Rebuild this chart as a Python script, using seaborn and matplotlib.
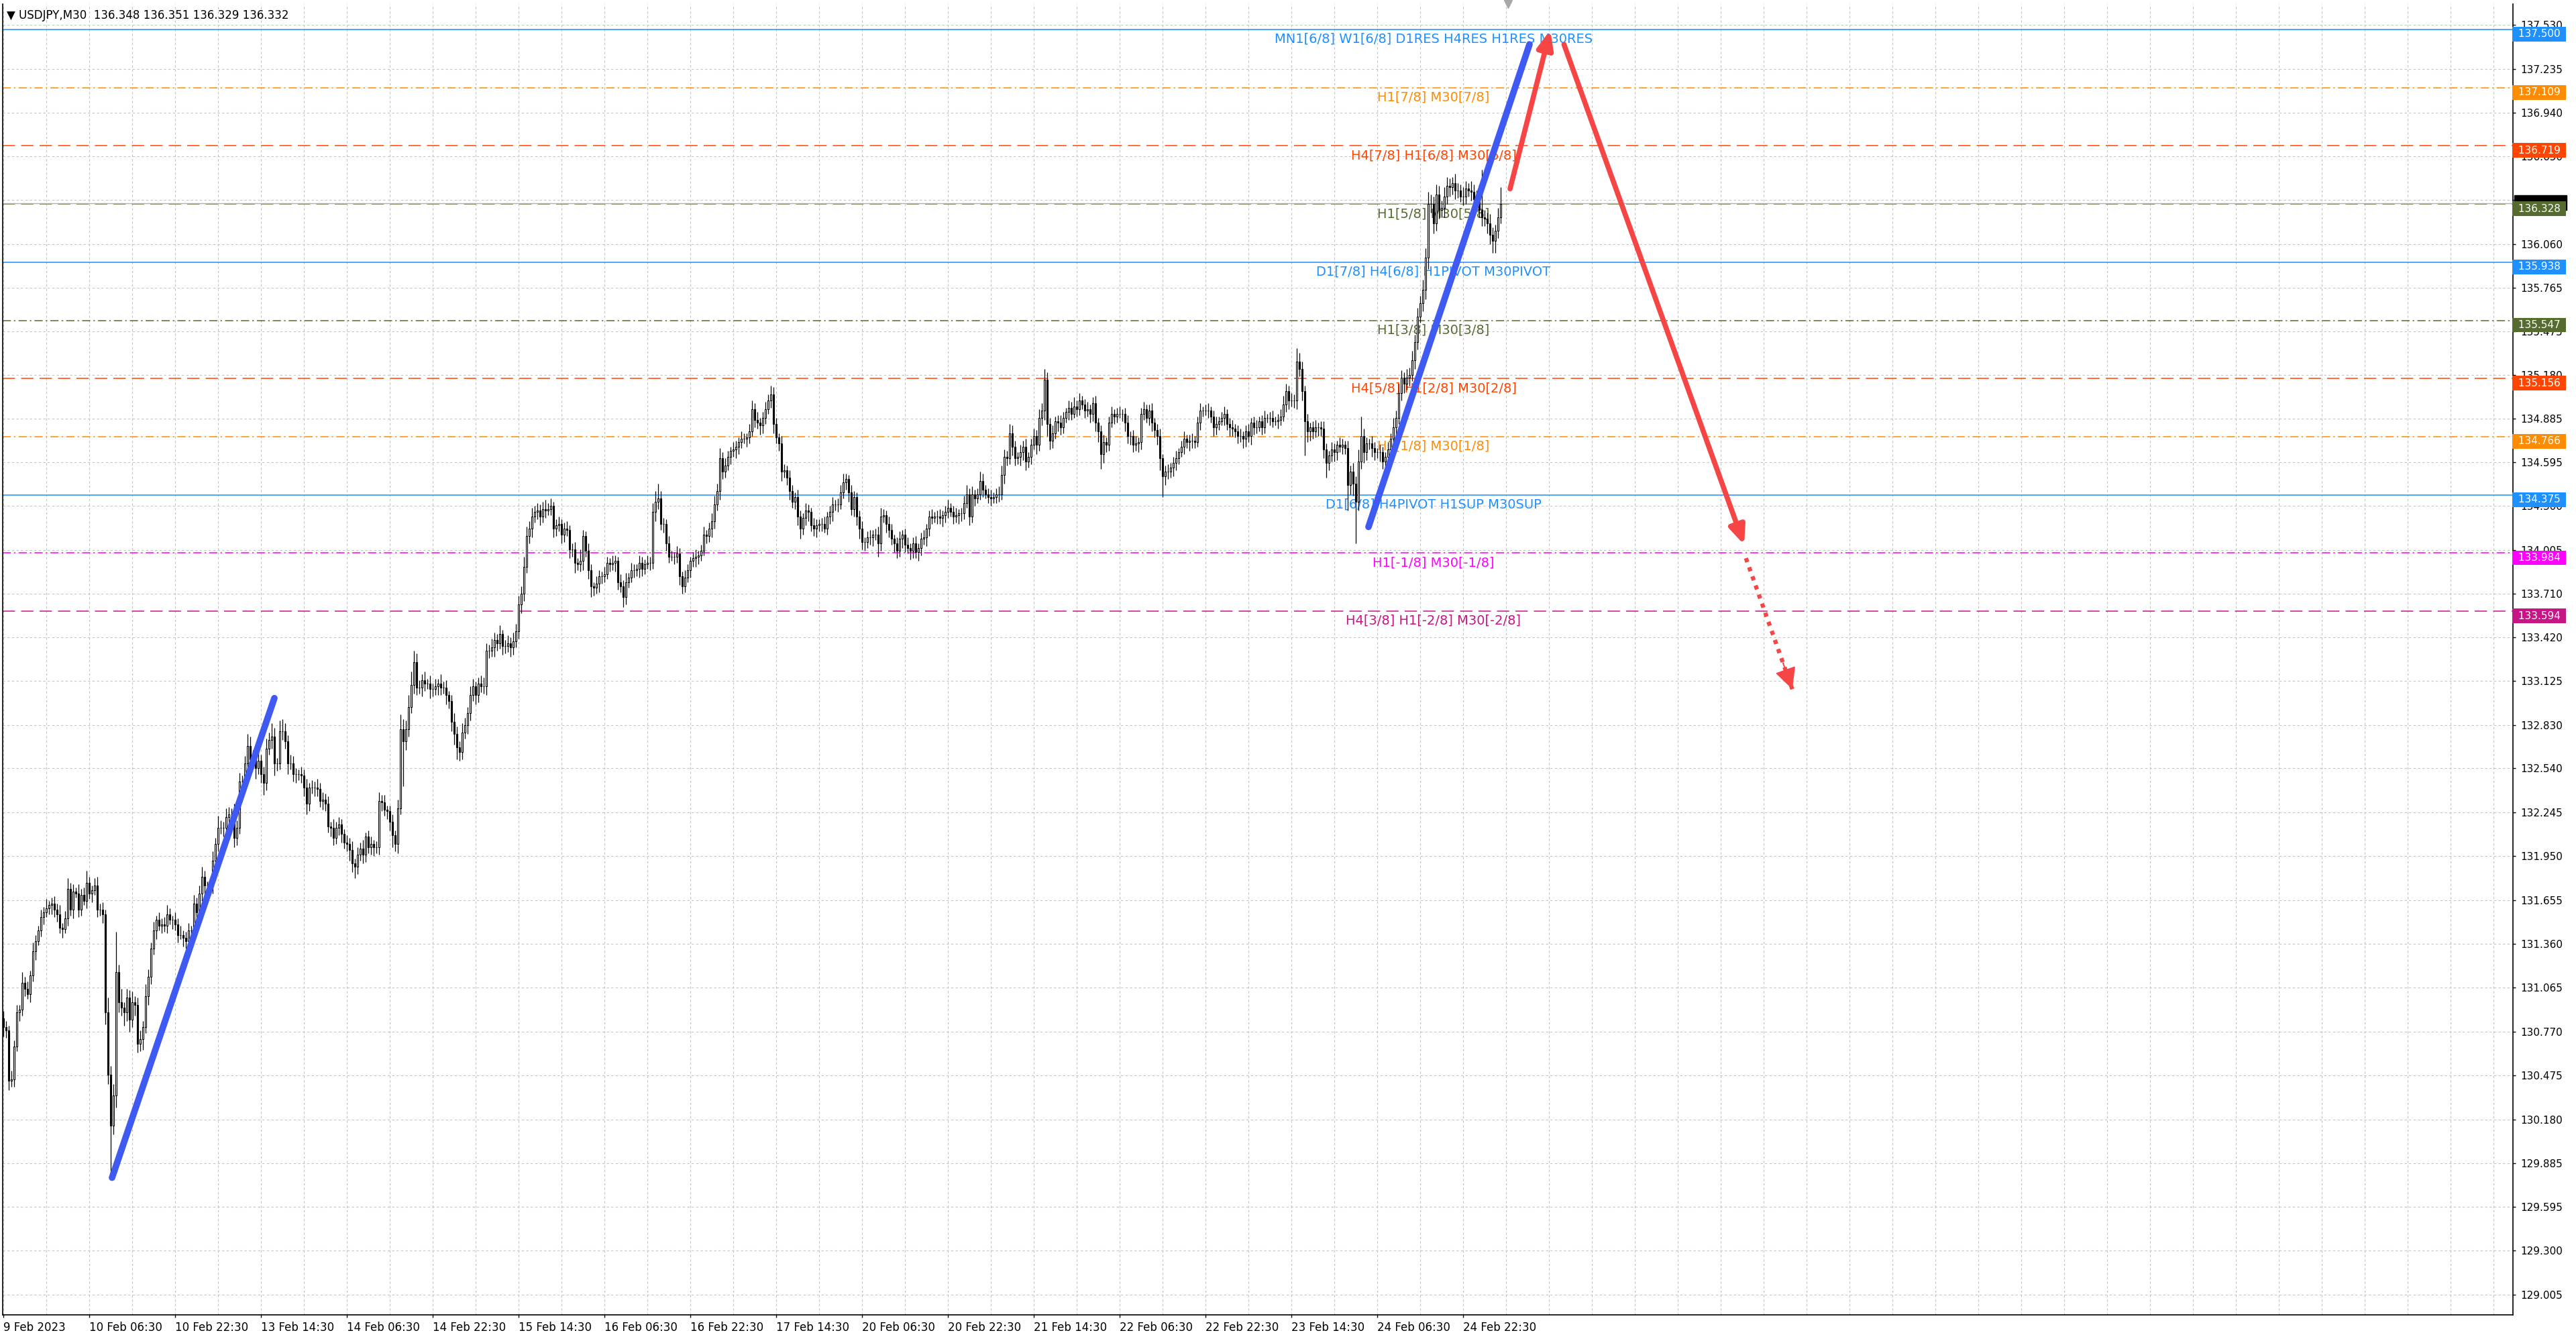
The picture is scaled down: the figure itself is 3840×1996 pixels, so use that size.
import numpy as np
import pandas as pd
import seaborn as sns
import matplotlib.pyplot as plt
import matplotlib.transforms as mtransforms
from matplotlib.patches import Rectangle

# USDJPY M30 - velas con niveles Murrey Math y proyeccion

first_open = 130.86

closes = [
    130.80, 130.78, 130.44, 130.45, 130.67, 130.90, 130.92, 131.10, 131.06, 131.02,
    131.15, 131.31, 131.38, 131.45, 131.54, 131.57, 131.60, 131.62, 131.63, 131.59,
    131.56, 131.47, 131.46, 131.53, 131.73, 131.59, 131.71, 131.70, 131.59, 131.69,
    131.65, 131.77, 131.70, 131.72, 131.75, 131.59, 131.59, 131.56, 130.90, 130.48,
    130.14, 130.34, 131.17, 130.97, 130.93, 130.90, 131.00, 130.85, 130.97, 130.95,
    130.69, 130.72, 130.80, 131.01, 131.14, 131.33, 131.45, 131.52, 131.48, 131.49,
    131.48, 131.56, 131.52, 131.52, 131.49, 131.42, 131.42, 131.40, 131.38, 131.45,
    131.45, 131.63, 131.57, 131.70, 131.81, 131.75, 131.75, 131.75, 131.92, 132.03,
    132.14, 132.14, 132.14, 132.21, 132.23, 132.23, 132.07, 132.14, 132.45, 132.45,
    132.57, 132.69, 132.60, 132.62, 132.54, 132.59, 132.50, 132.44, 132.67, 132.73,
    132.75, 132.57, 132.57, 132.79, 132.79, 132.72, 132.57, 132.57, 132.50, 132.50,
    132.50, 132.49, 132.41, 132.30, 132.41, 132.41, 132.41, 132.40, 132.32, 132.33,
    132.30, 132.15, 132.14, 132.07, 132.14, 132.16, 132.10, 132.04, 132.03, 131.99,
    131.90, 131.88, 131.96, 132.00, 131.96, 132.08, 132.01, 132.03, 132.01, 132.01,
    132.32, 132.31, 132.26, 132.25, 132.18, 132.09, 132.03, 132.27, 132.80, 132.72,
    132.80, 132.95, 133.10, 133.25, 133.08, 133.08, 133.13, 133.11, 133.11, 133.07,
    133.07, 133.09, 133.11, 133.08, 133.08, 133.03, 132.99, 132.85, 132.77, 132.68,
    132.65, 132.78, 132.83, 132.91, 133.03, 133.09, 133.03, 133.11, 133.09, 133.09,
    133.33, 133.33, 133.35, 133.40, 133.38, 133.44, 133.36, 133.36, 133.38, 133.35,
    133.39, 133.46, 133.64, 133.71, 133.89, 134.10, 134.15, 134.23, 134.26, 134.27,
    134.23, 134.28, 134.27, 134.28, 134.30, 134.15, 134.17, 134.18, 134.11, 134.15,
    134.14, 134.01, 134.01, 133.92, 133.91, 133.93, 134.10, 134.00, 133.87, 133.76,
    133.75, 133.78, 133.83, 133.83, 133.84, 133.92, 133.91, 133.92, 133.93, 133.79,
    133.76, 133.69, 133.79, 133.82, 133.87, 133.87, 133.88, 133.92, 133.88, 133.91,
    133.92, 133.92, 134.26, 134.33, 134.35, 134.18, 134.18, 134.05, 133.96, 133.96,
    133.96, 133.98, 133.83, 133.76, 133.82, 133.87, 133.93, 133.95, 133.96, 133.97,
    134.00, 134.11, 134.10, 134.15, 134.20, 134.31, 134.40, 134.62, 134.53, 134.57,
    134.63, 134.67, 134.68, 134.70, 134.73, 134.75, 134.75, 134.76, 134.80, 134.95,
    134.88, 134.86, 134.84, 134.89, 134.95, 135.01, 135.05, 134.85, 134.76, 134.72,
    134.53, 134.54, 134.49, 134.40, 134.33, 134.36, 134.23, 134.15, 134.22, 134.27,
    134.26, 134.17, 134.15, 134.17, 134.18, 134.18, 134.15, 134.23, 134.26, 134.31,
    134.31, 134.31, 134.39, 134.46, 134.48, 134.39, 134.28, 134.36, 134.23, 134.15,
    134.06, 134.06, 134.09, 134.09, 134.11, 134.11, 134.05, 134.23, 134.24, 134.18,
    134.14, 134.08, 134.05, 134.00, 134.08, 134.11, 134.04, 134.02, 134.00, 134.05,
    133.99, 134.02, 134.08, 134.09, 134.15, 134.23, 134.22, 134.23, 134.23, 134.22,
    134.24, 134.26, 134.29, 134.26, 134.23, 134.24, 134.25, 134.25, 134.32, 134.38,
    134.23, 134.38, 134.35, 134.38, 134.47, 134.41, 134.38, 134.36, 134.35, 134.36,
    134.38, 134.38, 134.51, 134.63, 134.62, 134.79, 134.70, 134.62, 134.63, 134.66,
    134.70, 134.60, 134.63, 134.71, 134.77, 134.71, 134.89, 134.94, 135.15, 134.85,
    134.74, 134.79, 134.87, 134.86, 134.83, 134.89, 134.93, 134.96, 134.92, 134.97,
    134.95, 135.01, 134.98, 134.94, 134.95, 134.92, 134.99, 134.86, 134.80, 134.65,
    134.73, 134.71, 134.86, 134.92, 134.90, 134.92, 134.92, 134.92, 134.86, 134.77,
    134.77, 134.71, 134.72, 134.73, 134.92, 134.95, 134.89, 134.94, 134.86, 134.81,
    134.77, 134.62, 134.50, 134.53, 134.53, 134.56, 134.59, 134.62, 134.66, 134.70,
    134.75, 134.73, 134.74, 134.74, 134.73, 134.86, 134.94, 134.94, 134.94, 134.94,
    134.90, 134.83, 134.85, 134.87, 134.89, 134.92, 134.85, 134.83, 134.82, 134.80,
    134.77, 134.77, 134.75, 134.80, 134.77, 134.86, 134.83, 134.83, 134.87, 134.83,
    134.89, 134.89, 134.89, 134.87, 134.87, 134.88, 134.90, 134.98, 135.07, 135.01,
    135.01, 135.01, 135.27, 135.22, 135.07, 134.87, 134.80, 134.83, 134.80, 134.83,
    134.83, 134.82, 134.68, 134.59, 134.64, 134.68, 134.66, 134.71, 134.70, 134.71,
    134.69, 134.44, 134.53, 134.45, 134.33, 134.60, 134.77, 134.66, 134.72, 134.72,
    134.69, 134.66, 134.66, 134.66, 134.60, 134.63, 134.68, 134.75, 134.83, 134.89,
    135.06, 135.16, 135.12, 135.16, 135.18, 135.28, 135.40, 135.57, 135.66, 135.75,
    135.97, 136.33, 136.33, 136.20, 136.39, 136.29, 136.30, 136.38, 136.45, 136.44,
    136.47, 136.42, 136.42, 136.38, 136.38, 136.43, 136.42, 136.41, 136.36, 136.38,
    136.29, 136.24, 136.23, 136.20, 136.12, 136.08, 136.15, 136.24, 136.33,
]

# mechas en pips (0.01)
wick_up = [
    5, 4, 3, 6, 4, 5, 3, 7, 4, 5, 3, 6, 4, 3, 5, 4, 6, 3, 4, 5,
    4, 6, 3, 5, 7, 4, 5, 3, 6, 4, 5, 8, 4, 3, 5, 6, 4, 5, 3, 10,
    6, 8, 27, 5, 9, 4, 6, 5, 7, 4, 5, 6, 4, 8, 5, 4, 6, 3, 5, 4,
    5, 6, 4, 3, 5, 4, 6, 3, 4, 5, 3, 6, 4, 5, 7, 4, 3, 5, 6, 4,
    8, 5, 4, 6, 5, 4, 7, 5, 6, 4, 5, 8, 6, 4, 5, 6, 4, 5, 7, 5,
    9, 6, 4, 7, 8, 5, 4, 6, 5, 4, 3, 5, 4, 6, 3, 5, 4, 6, 4, 5,
    4, 5, 3, 6, 4, 5, 4, 3, 5, 4, 6, 3, 5, 4, 6, 3, 4, 5, 3, 4,
    6, 4, 5, 3, 4, 5, 3, 6, 10, 7, 6, 8, 9, 8, 6, 5, 4, 6, 3, 5,
    4, 5, 3, 6, 4, 5, 3, 4, 6, 5, 4, 6, 5, 4, 6, 5, 3, 4, 5, 6,
    5, 4, 6, 5, 4, 6, 3, 4, 5, 4, 6, 5, 6, 5, 7, 6, 5, 6, 4, 5,
    4, 5, 6, 4, 5, 3, 4, 5, 3, 4, 5, 3, 4, 5, 3, 8, 4, 3, 5, 4,
    3, 5, 4, 3, 5, 4, 3, 5, 4, 3, 5, 4, 6, 3, 5, 4, 3, 5, 4, 3,
    5, 4, 6, 7, 10, 5, 4, 3, 5, 4, 3, 5, 4, 3, 5, 4, 3, 4, 5, 3,
    4, 5, 3, 4, 5, 6, 5, 7, 4, 5, 4, 3, 5, 4, 3, 5, 4, 3, 5, 6,
    4, 5, 3, 4, 5, 4, 6, 5, 4, 3, 5, 4, 3, 5, 4, 3, 5, 4, 3, 5,
    4, 3, 5, 4, 3, 4, 5, 3, 4, 5, 3, 4, 5, 6, 4, 3, 5, 4, 3, 4,
    5, 3, 4, 5, 3, 4, 5, 6, 4, 3, 5, 4, 3, 4, 5, 3, 4, 5, 3, 4,
    5, 3, 4, 5, 3, 4, 5, 3, 4, 5, 3, 4, 5, 3, 4, 5, 3, 4, 5, 6,
    4, 5, 3, 4, 6, 5, 3, 4, 5, 3, 4, 5, 6, 5, 4, 6, 5, 4, 3, 5,
    4, 5, 3, 4, 5, 4, 6, 5, 7, 5, 4, 5, 3, 4, 5, 4, 3, 5, 4, 6,
    4, 5, 3, 4, 5, 3, 4, 5, 3, 4, 5, 3, 4, 5, 3, 4, 5, 3, 4, 5,
    3, 4, 5, 3, 4, 5, 3, 4, 5, 3, 4, 5, 3, 4, 5, 3, 4, 5, 3, 4,
    5, 3, 4, 5, 3, 4, 5, 3, 4, 5, 3, 4, 5, 3, 4, 5, 3, 4, 5, 3,
    4, 5, 3, 4, 5, 3, 4, 5, 3, 4, 5, 3, 4, 5, 3, 4, 5, 6, 5, 4,
    5, 4, 9, 6, 5, 4, 5, 3, 4, 5, 3, 4, 5, 4, 3, 5, 4, 3, 5, 4,
    3, 5, 4, 6, 5, 8, 13, 5, 4, 3, 5, 4, 3, 5, 4, 3, 5, 4, 6, 5,
    6, 5, 4, 6, 5, 6, 5, 6, 5, 7, 6, 8, 6, 5, 7, 6, 5, 6, 6, 5,
    4, 6, 5, 4, 6, 5, 4, 6, 5, 4, 8, 27, 5, 4, 6, 5, 4, 6, 11,
]
wick_dn = [
    6, 5, 6, 4, 5, 3, 6, 4, 5, 3, 5, 4, 6, 3, 4, 5, 3, 4, 6, 5,
    5, 4, 6, 3, 5, 4, 6, 3, 5, 4, 3, 5, 4, 6, 3, 5, 4, 6, 8, 6,
    32, 6, 8, 7, 5, 9, 6, 8, 5, 7, 6, 5, 7, 4, 6, 5, 4, 6, 3, 5,
    4, 5, 3, 6, 4, 5, 3, 6, 5, 4, 6, 3, 5, 4, 5, 6, 4, 3, 5, 4,
    5, 4, 6, 3, 5, 4, 6, 5, 4, 6, 5, 4, 6, 5, 7, 4, 6, 8, 5, 4,
    6, 8, 5, 4, 6, 5, 7, 4, 5, 6, 4, 5, 6, 7, 5, 4, 6, 5, 4, 6,
    5, 4, 6, 5, 4, 5, 6, 4, 5, 7, 6, 8, 5, 4, 6, 5, 4, 5, 6, 4,
    5, 6, 4, 5, 6, 8, 5, 6, 4, 30, 6, 5, 4, 6, 5, 4, 6, 5, 4, 6,
    5, 4, 6, 5, 4, 6, 5, 6, 7, 8, 6, 5, 4, 6, 5, 4, 6, 5, 4, 5,
    6, 5, 4, 6, 5, 4, 6, 5, 4, 6, 5, 4, 5, 6, 5, 4, 5, 6, 4, 5,
    6, 4, 5, 3, 4, 6, 5, 4, 6, 5, 4, 6, 5, 7, 4, 5, 6, 4, 6, 7,
    5, 4, 6, 5, 4, 3, 5, 4, 6, 5, 4, 7, 5, 4, 3, 5, 4, 6, 5, 4,
    3, 5, 4, 6, 5, 4, 6, 5, 4, 3, 5, 4, 6, 5, 4, 3, 5, 4, 6, 5,
    4, 3, 5, 4, 6, 5, 4, 6, 5, 4, 3, 5, 4, 6, 5, 4, 3, 5, 4, 3,
    5, 4, 6, 5, 4, 3, 5, 6, 4, 5, 6, 4, 5, 6, 4, 5, 6, 7, 4, 5,
    6, 4, 5, 6, 4, 5, 3, 4, 5, 6, 4, 5, 3, 4, 5, 6, 4, 5, 6, 7,
    5, 6, 4, 5, 6, 4, 9, 5, 4, 6, 5, 4, 6, 5, 4, 6, 5, 4, 6, 5,
    4, 6, 5, 4, 6, 5, 4, 3, 5, 4, 6, 5, 4, 3, 5, 4, 6, 5, 4, 3,
    6, 4, 5, 3, 4, 5, 3, 4, 5, 3, 4, 5, 4, 6, 5, 4, 6, 5, 4, 6,
    5, 6, 4, 5, 3, 6, 4, 5, 6, 8, 6, 5, 4, 6, 5, 4, 3, 5, 4, 3,
    5, 4, 3, 5, 4, 6, 5, 6, 7, 10, 6, 5, 4, 3, 5, 4, 3, 5, 6, 5,
    6, 5, 4, 6, 5, 4, 3, 5, 6, 5, 6, 8, 14, 6, 5, 4, 6, 5, 4, 3,
    5, 4, 6, 5, 4, 3, 5, 4, 3, 5, 4, 6, 5, 4, 3, 5, 4, 6, 5, 4,
    5, 4, 6, 5, 4, 6, 5, 4, 3, 5, 4, 3, 5, 4, 3, 5, 4, 3, 5, 6,
    4, 5, 6, 5, 6, 23, 7, 6, 5, 4, 6, 5, 6, 10, 5, 4, 6, 5, 4, 5,
    4, 17, 6, 8, 28, 6, 5, 7, 5, 4, 6, 5, 4, 6, 5, 4, 5, 4, 3, 5,
    4, 5, 6, 4, 5, 4, 6, 5, 4, 5, 6, 8, 6, 7, 5, 6, 5, 6, 5, 6,
    5, 6, 5, 4, 6, 5, 4, 6, 5, 6, 5, 6, 5, 7, 6, 8, 8, 5, 4,
]
assert len(closes) == len(wick_up) == len(wick_dn)

date_labels = ["9 Feb 2023", "10 Feb 06:30", "10 Feb 22:30", "13 Feb 14:30", "14 Feb 06:30",
               "14 Feb 22:30", "15 Feb 14:30", "16 Feb 06:30", "16 Feb 22:30", "17 Feb 14:30",
               "20 Feb 06:30", "20 Feb 22:30", "21 Feb 14:30", "22 Feb 06:30", "22 Feb 22:30",
               "23 Feb 14:30", "24 Feb 06:30", "24 Feb 22:30"]
label_bars = list(range(0, 32 * len(date_labels), 32))

price_ticks = [137.530, 137.235, 136.940, 136.650, 136.355, 136.060, 135.765, 135.475, 135.180,
               134.885, 134.595, 134.300, 134.005, 133.710, 133.420, 133.125, 132.830, 132.540,
               132.245, 131.950, 131.655, 131.360, 131.065, 130.770, 130.475, 130.180, 129.885,
               129.595, 129.300, 129.005]

level_prices = [137.500, 137.109, 136.719, 136.328, 135.938, 135.547, 135.156, 134.766, 134.375,
                133.984, 133.594]
level_labels = ["MN1[6/8] W1[6/8] D1RES H4RES H1RES M30RES", "H1[7/8] M30[7/8]",
                "H4[7/8] H1[6/8] M30[6/8]", "H1[5/8] M30[5/8]", "D1[7/8] H4[6/8] H1PIVOT M30PIVOT",
                "H1[3/8] M30[3/8]", "H4[5/8] H1[2/8] M30[2/8]", "H1[1/8] M30[1/8]",
                "D1[6/8] H4PIVOT H1SUP M30SUP", "H1[-1/8] M30[-1/8]", "H4[3/8] H1[-2/8] M30[-2/8]"]

bid_price = 136.332
ohlc_title = "\u25bc USDJPY,M30  136.348 136.351 136.329 136.332"

# lineas dibujadas (indice de vela, precio)
blue_bars_1 = [40.5, 101.0]
blue_prices_1 = [129.79, 133.01]
blue_bars_2 = [508.75, 568.75]
blue_prices_2 = [134.16, 137.40]
red_up_bars = [561.5, 576.5]
red_up_prices = [136.43, 137.495]
red_down_bars = [581.6, 648.75]
red_down_prices = [137.40, 134.04]
red_dot_bars = [649.4, 666.7]
red_dot_prices = [133.95, 133.07]

# estilos
blue_c = '#3F5AF2'
red_c = '#F54545'
dashdot = (0, (8, 3, 1.5, 3))
dashed = (0, (12, 6))
level_colors = ['#1E90FF', '#FF8C00', '#FF4500', '#556B2F', '#1E90FF', '#556B2F', '#FF4500',
                '#FF8C00', '#1E90FF', '#FF00FF', '#C71585']
level_styles = ['-', dashdot, dashed, dashed, '-', dashdot, dashed, dashdot, '-', dashdot, dashed]
label_bar = 533

sns.set_theme(style="white")
plt.rcParams['font.family'] = ['DejaVu Sans']

df = pd.DataFrame({'close': closes, 'up': wick_up, 'dn': wick_dn})
df['bar'] = np.arange(len(df))
df['open'] = df['close'].shift(1).fillna(first_open)
df['high'] = df[['open', 'close']].max(axis=1) + df['up'] / 100
df['low'] = df[['open', 'close']].min(axis=1) - df['dn'] / 100
bull = df['close'] >= df['open']

fig = plt.figure(figsize=(38.4, 19.96), dpi=100)
fig.patch.set_facecolor('white')
ax = fig.add_axes([4 / 3840, 36 / 1996, 3742 / 3840, 1954 / 1996])
ax.set_facecolor('white')
ax.set_xlim(-0.25, 935.25)
ax.set_ylim(128.869, 137.671)

# ejes y rejilla
ax.set_yticks(price_ticks)
ax.set_yticklabels([f"{p:.3f}" for p in price_ticks])
ax.yaxis.tick_right()
ax.set_xticks(label_bars)
ax.set_xticklabels(date_labels, ha='left')
ax.set_xticks(np.arange(0, 936, 16), minor=True)
grid_kw = dict(color='#C4C4C4', linestyle=(0, (3, 3)), linewidth=0.8)
ax.grid(True, which='both', axis='x', **grid_kw)
ax.grid(True, which='major', axis='y', **grid_kw)
ax.set_axisbelow(True)
ax.tick_params(axis='x', which='minor', length=0, bottom=False)
ax.tick_params(axis='x', which='major', bottom=True, length=3, width=1, color='black',
               labelsize=12, pad=4, labelcolor='black')
ax.tick_params(axis='y', which='major', right=True, left=False, length=3, width=1, color='black',
               labelsize=11, pad=5, labelcolor='black')
for side in ['left', 'bottom', 'right']:
    ax.spines[side].set_color('black')
    ax.spines[side].set_linewidth(1.2)
ax.spines['top'].set_visible(False)

# niveles
ax.axhline(bid_price, color='#B0B0B0', lw=1, zorder=1.5)
for price, text, color, ls in zip(level_prices, level_labels, level_colors, level_styles):
    ax.axhline(price, color=color, lw=1.1, ls=ls, zorder=1)
    ax.annotate(text, xy=(label_bar, price), xytext=(0, -3.5), textcoords='offset points',
                ha='center', va='top', color=color, fontsize=14, zorder=2)

# velas
ax.vlines(df['bar'], df['low'], df['high'], color='black', lw=0.9, zorder=3)
ax.bar(df.loc[bull, 'bar'], (df['close'] - df['open'])[bull], bottom=df.loc[bull, 'open'],
       width=0.72, color='white', edgecolor='black', linewidth=0.8, zorder=4)
ax.bar(df.loc[~bull, 'bar'], (df['open'] - df['close'])[~bull], bottom=df.loc[~bull, 'close'],
       width=0.72, color='black', edgecolor='black', linewidth=0.8, zorder=4)

# lineas de tendencia azules
blue_df = pd.DataFrame({'bar': blue_bars_1 + blue_bars_2,
                        'price': blue_prices_1 + blue_prices_2,
                        'seg': ['a', 'a', 'b', 'b']})
sns.lineplot(data=blue_df, x='bar', y='price', units='seg', estimator=None, sort=False,
             color=blue_c, lw=7, solid_capstyle='round', ax=ax, legend=False, zorder=6)
ax.set_xlabel('')
ax.set_ylabel('')

# flechas rojas
arrow_kw = dict(arrowstyle='-|>,head_length=0.75,head_width=0.32', color=red_c, lw=5.5,
                mutation_scale=22, shrinkA=0, shrinkB=0, capstyle='round')
ax.annotate('', xy=(red_up_bars[1], red_up_prices[1]), xytext=(red_up_bars[0], red_up_prices[0]),
            arrowprops=arrow_kw, zorder=6)
ax.annotate('', xy=(red_down_bars[1], red_down_prices[1]),
            xytext=(red_down_bars[0], red_down_prices[0]), arrowprops=arrow_kw, zorder=6)
ax.plot(red_dot_bars, red_dot_prices, color=red_c, lw=4.5, ls=(0, (1, 1.3)), zorder=6)
head_from = (red_dot_bars[1] - 0.2 * (red_dot_bars[1] - red_dot_bars[0]),
             red_dot_prices[1] - 0.2 * (red_dot_prices[1] - red_dot_prices[0]))
ax.annotate('', xy=(red_dot_bars[1], red_dot_prices[1]), xytext=head_from,
            arrowprops=dict(arrowstyle='-|>,head_length=0.9,head_width=0.45', color=red_c, lw=1.5,
                            mutation_scale=22, shrinkA=0, shrinkB=0), zorder=6)

# etiquetas de precio en el eje derecho
# la etiqueta del bid queda tapada por la del nivel 5/8: solo asoma la franja negra
right_tr = mtransforms.blended_transform_factory(ax.transAxes, ax.transData)
ax.add_patch(Rectangle((1.0006, bid_price - 0.045), 0.0208, 0.1, transform=right_tr,
                       color='black', clip_on=False, zorder=7))
box_kw = dict(ha='left', va='center', color='white', fontsize=11, xycoords=('axes fraction', 'data'),
              textcoords='offset points', annotation_clip=False)
for price, color in zip(level_prices, level_colors):
    ax.annotate(f" {price:.3f} ", xy=(1, price), xytext=(2, -5),
                bbox=dict(boxstyle='square,pad=0.22', fc=color, ec='none'), zorder=8, **box_kw)

ax.plot([560.75], [137.671], marker='v', color='#A8A8A8', ms=8, clip_on=False, zorder=7)
fig.text(10 / 3840, 1 - 23 / 1996, ohlc_title, fontsize=12, ha='left', va='center', color='black')

fig.savefig('out.png', dpi=100, facecolor='white')
